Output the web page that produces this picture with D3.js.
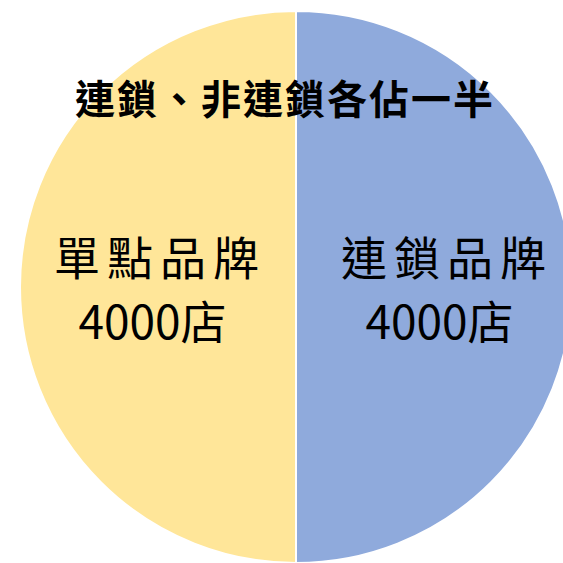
<!DOCTYPE html>
<html>
<head>
<meta charset="utf-8">
<script src="https://cdn.jsdelivr.net/npm/d3@7"></script>
<style>
  html, body { margin: 0; padding: 0; background: #fff; }
  svg { display: block; }
</style>
</head>
<body>
<div id="chart"></div>
<script>
// データ
const categories = ["連鎖品牌", "單點品牌"];
const values = [4000, 4000];
const unitLabel = "店";
const colors = ["#8FAADC", "#FFE699"];
const title = "連鎖、非連鎖各佔一半";

const width = 563, height = 563;
const cx = 296, cy = 287, radius = 276;

const svg = d3.select("#chart").append("svg")
    .attr("width", width)
    .attr("height", height);

const g = svg.append("g")
    .attr("transform", "translate(" + cx + "," + cy + ")");

// 円グラフ（時計回り、12時から）
const pie = d3.pie().sort(null).value(d => d);
const arcs = pie(values);
const arc = d3.arc().innerRadius(0).outerRadius(radius);

g.selectAll("path")
    .data(arcs)
    .enter()
    .append("path")
    .attr("d", arc)
    .attr("fill", (d, i) => colors[i])
    .attr("stroke", "#fff")
    .attr("stroke-width", 2);

// ラベル
const labelArc = d3.arc().innerRadius(radius * 0.52).outerRadius(radius * 0.52);
const font = "'Noto Sans CJK TC', 'Noto Sans CJK SC', sans-serif";
const spacing = 7;

const labels = g.selectAll("g.label")
    .data(arcs)
    .enter()
    .append("g")
    .attr("class", "label")
    .attr("transform", d => {
        const c = labelArc.centroid(d);
        return "translate(" + c[0] + "," + c[1] + ")";
    });

labels.append("text")
    .attr("text-anchor", "middle")
    .attr("x", spacing / 2 + 4)
    .attr("y", -12)
    .attr("font-family", font)
    .attr("font-size", 46)
    .attr("letter-spacing", spacing)
    .attr("fill", "#000")
    .text((d, i) => categories[i]);

labels.append("text")
    .attr("text-anchor", "middle")
    .attr("y", 52)
    .attr("font-family", font)
    .attr("font-size", 46)
    .attr("fill", "#000")
    .text(d => d.data + unitLabel);

// タイトル
svg.append("text")
    .attr("x", 285)
    .attr("y", 114)
    .attr("text-anchor", "middle")
    .attr("font-family", font)
    .attr("font-weight", "bold")
    .attr("font-size", 40)
    .attr("letter-spacing", 2)
    .attr("fill", "#000")
    .text(title);
</script>
</body>
</html>
